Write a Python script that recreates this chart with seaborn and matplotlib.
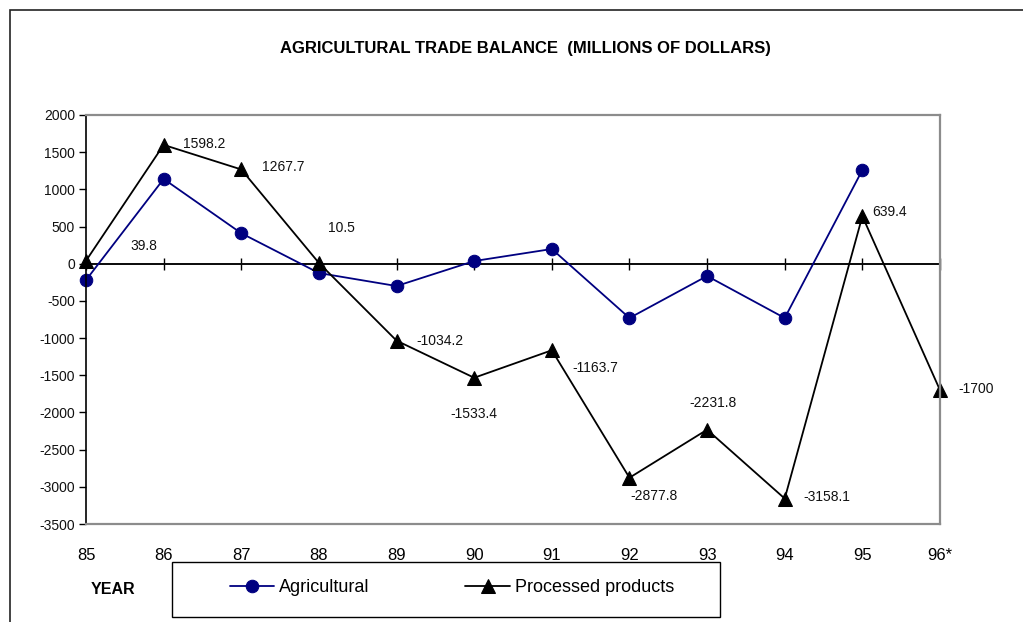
import matplotlib
matplotlib.use("Agg")
import matplotlib.pyplot as plt
import matplotlib.patches as mpatches
import seaborn as sns
import pandas as pd
import numpy as np

years = ["85", "86", "87", "88", "89", "90", "91", "92", "93", "94", "95", "96*"]
agricultural = [-220, 1140, 410, -125, -300, 36, 198, -730, -165, -730, 1260, np.nan]
processed = [39.8, 1598.2, 1267.7, 10.5, -1034.2, -1533.4, -1163.7, -2877.8, -2231.8, -3158.1, 639.4, -1700]
processed_labels = ["39.8", "1598.2", "1267.7", "10.5", "-1034.2", "-1533.4", "-1163.7",
                    "-2877.8", "-2231.8", "-3158.1", "639.4", "-1700"]
# label offsets in pixels (dx, dy) and horizontal alignment
label_offsets = [(44, 15, "left"), (19, 1, "left"), (21, 2, "left"), (9, 35, "left"),
                 (20, 0, "left"), (0, -36, "center"), (21, -18, "left"), (1, -18, "left"),
                 (6, 27, "center"), (19, 2, "left"), (10, 4, "left"), (18, 1, "left")]
yticks = list(range(-3500, 2001, 500))

sns.set_theme(style="white")
plt.rcParams["font.family"] = ["Liberation Sans", "DejaVu Sans"]
plt.rcParams["text.color"] = "black"
plt.rcParams["xtick.color"] = "black"
plt.rcParams["ytick.color"] = "black"
plt.rcParams["xtick.labelcolor"] = "black"
plt.rcParams["ytick.labelcolor"] = "black"

fig = plt.figure(figsize=(10.23, 6.22), dpi=100)
ax = fig.add_axes([86 / 1023, 1 - 524 / 622, (940 - 86) / 1023, (524 - 115) / 622])

df = pd.DataFrame({"pos": np.arange(len(years)), "Agricultural": agricultural,
                   "Processed products": processed})

ax.axhline(0, color="black", linewidth=1.1, zorder=1)

sns.lineplot(data=df, x="pos", y="Agricultural", ax=ax, color="#000080", marker="o",
             markersize=9, markeredgecolor="#000080", linewidth=1.3, label="Agricultural")
sns.lineplot(data=df, x="pos", y="Processed products", ax=ax, color="black", marker="^",
             markersize=10, markeredgecolor="black", linewidth=1.3, label="Processed products")
for ln in ax.lines:
    ln.set_clip_on(False)

for i, (v, lab) in enumerate(zip(processed, processed_labels)):
    dx, dy, ha = label_offsets[i]
    ax.annotate(lab, (i, v), xytext=(dx, dy), textcoords="offset pixels",
                ha=ha, va="center", fontsize=10, color="#111111")

ax.set_xlim(0, len(years) - 1)
ax.set_ylim(-3500, 2000)
ax.set_yticks(yticks)
ax.set_yticklabels([str(t) for t in yticks])
ax.set_xticks(range(len(years)))
ax.set_xticklabels(years)
ax.set_xlabel("")
ax.set_ylabel("")
ax.tick_params(axis="y", direction="out", length=5, width=1, color="black",
               labelsize=10, pad=3, left=True, labelcolor="#111111")
ax.tick_params(axis="x", length=0, labelsize=12, pad=17, labelcolor="black")

for s in ["top", "right", "bottom"]:
    ax.spines[s].set_color("#8c8c8c")
    ax.spines[s].set_linewidth(1.6)
ax.spines["left"].set_color("black")
ax.spines["left"].set_linewidth(1.2)

# tick marks on the zero axis
zero_frac = (0 - (-3500)) / (2000 - (-3500))
sec = ax.secondary_xaxis(zero_frac)
sec.set_xticks(range(len(years)))
sec.set_xticklabels([""] * len(years))
sec.tick_params(axis="x", direction="inout", length=8, width=1, color="black")

ax.get_legend().remove()
handles, labels = ax.get_legend_handles_labels()
leg = fig.legend(handles, labels, loc="center", ncol=2,
                 bbox_to_anchor=(452 / 1023, 1 - 588 / 622),
                 frameon=False, fontsize=13, handlelength=2.45,
                 handletextpad=0.3, columnspacing=5.3, borderpad=0)
for t in leg.get_texts():
    t.set_color("black")

box = mpatches.Rectangle((172 / 1023, 1 - 617 / 622), 548 / 1023, 55 / 622,
                         transform=fig.transFigure, fill=False, edgecolor="black",
                         linewidth=1)
fig.add_artist(box)

fig.text(525 / 1023, 1 - 48 / 622, "AGRICULTURAL TRADE BALANCE  (MILLIONS OF DOLLARS)",
         ha="center", va="center", fontsize=12, fontweight="bold", color="black")
fig.text(113 / 1023, 1 - 589 / 622, "YEAR", ha="center", va="center",
         fontsize=11.5, fontweight="bold", color="black")

border = mpatches.Rectangle((10 / 1023, -0.2), 1.2, 0.2 + 1 - 10 / 622,
                            transform=fig.transFigure, fill=False,
                            edgecolor="#222222", linewidth=1.2, clip_on=False)
fig.add_artist(border)

fig.savefig("out.png", dpi=100, facecolor="white")
